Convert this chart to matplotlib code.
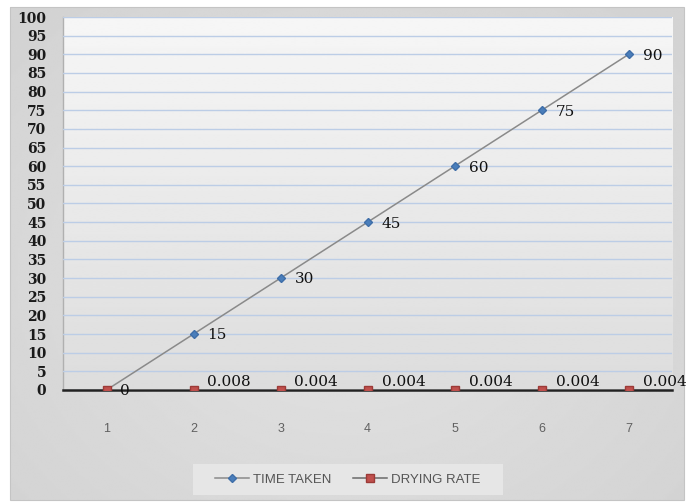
import matplotlib
matplotlib.use("Agg")
import matplotlib.pyplot as plt
import numpy as np
from matplotlib.patches import Rectangle

# data
days = [1, 2, 3, 4, 5, 6, 7]
time_taken = [0, 15, 30, 45, 60, 75, 90]
drying_rate = [0, 0.008, 0.004, 0.004, 0.004, 0.004, 0.004]
drying_labels = ["", "0.008", "0.004", "0.004", "0.004", "0.004", "0.004"]
y_ticks = list(range(0, 101, 5))

fig = plt.figure(figsize=(6.9, 5.03), dpi=100)
fig.patch.set_facecolor("white")

# chart area background (soft grey radial fill)
bg = fig.add_axes([0, 0, 1, 1], zorder=-5)
bg.set_xlim(0, 690)
bg.set_ylim(503, 0)
bg.axis("off")
gx, gy = np.meshgrid(np.linspace(0, 1, 300), np.linspace(0, 1, 300))
r = np.sqrt(((gx - 0.5) / 0.8) ** 2 + ((gy - 0.55) / 0.9) ** 2)
shade = 0.89 - 0.075 * np.clip(r, 0, 1)
bg.imshow(shade, cmap="gray", vmin=0, vmax=1, extent=(10, 684, 500, 7),
          aspect="auto", interpolation="bilinear")
bg.add_patch(Rectangle((10, 7), 674, 493, fill=False, edgecolor="#c4c4c4", lw=0.8))
# legend panel
bg.add_patch(Rectangle((193, 464), 310, 31, facecolor="#e6e6e6", edgecolor="none"))

ax = fig.add_axes([0.0913, 0.2247, 0.883, 0.7415])
ax.set_xlim(0.5, 7.5)
ax.set_ylim(0, 100)

# plot area fill, lighter at the top
pv = np.linspace(0.965, 0.865, 200).reshape(-1, 1)
ax.imshow(pv, cmap="gray", vmin=0, vmax=1, extent=(0.5, 7.5, 0, 100),
          aspect="auto", interpolation="bilinear", zorder=0)

ax.set_yticks(y_ticks)
ax.yaxis.grid(True, color="#bccde6", lw=1.0, zorder=1)
ax.set_axisbelow(False)

ax.plot(days, time_taken, color="#8a8a8a", lw=1.1, marker="D", ms=4,
        mfc="#4a7ebb", mec="#3f6ea8", label="TIME TAKEN", zorder=3)
ax.plot(days, drying_rate, color="#6a6a6a", lw=1.1, marker="s", ms=5.5,
        mfc="#c0504d", mec="#9c3a37", label="DRYING RATE", zorder=4)

for x, v in zip(days, time_taken):
    ax.annotate(str(v), (x, v), xytext=(10, -1), textcoords="offset points",
                ha="left", va="center", fontsize=11, family="DejaVu Serif",
                color="#111111", zorder=5)
for x, v, lab in zip(days, drying_rate, drying_labels):
    if lab:
        ax.annotate(lab, (x, v), xytext=(10, 5.5), textcoords="offset points",
                    ha="left", va="center", fontsize=11, family="DejaVu Serif",
                    color="#111111", zorder=5)

for s in ["top", "right"]:
    ax.spines[s].set_visible(False)
ax.spines["left"].set_color("#b0b0b0")
ax.spines["left"].set_linewidth(1.0)
ax.spines["bottom"].set_color("#222222")
ax.spines["bottom"].set_linewidth(1.8)
ax.spines["bottom"].set_zorder(3.5)

ax.set_xticks(days)
ax.tick_params(axis="x", length=0, pad=24, labelsize=9, labelcolor="#606060")
ax.tick_params(axis="y", length=0, pad=12)
for t in ax.get_yticklabels():
    t.set_family("DejaVu Serif")
    t.set_fontweight("bold")
    t.set_fontsize(10)
    t.set_color("#1a1a1a")
for t in ax.get_xticklabels():
    t.set_family("Liberation Sans")

leg = fig.legend(loc="center", bbox_to_anchor=(0.504, 0.046), ncol=2,
                 frameon=False, handlelength=2.6,
                 handletextpad=0.3, columnspacing=1.6,
                 prop={"family": "Liberation Sans", "size": 9.5})
for t in leg.get_texts():
    t.set_color("#555555")

fig.savefig("out.png", dpi=100)
